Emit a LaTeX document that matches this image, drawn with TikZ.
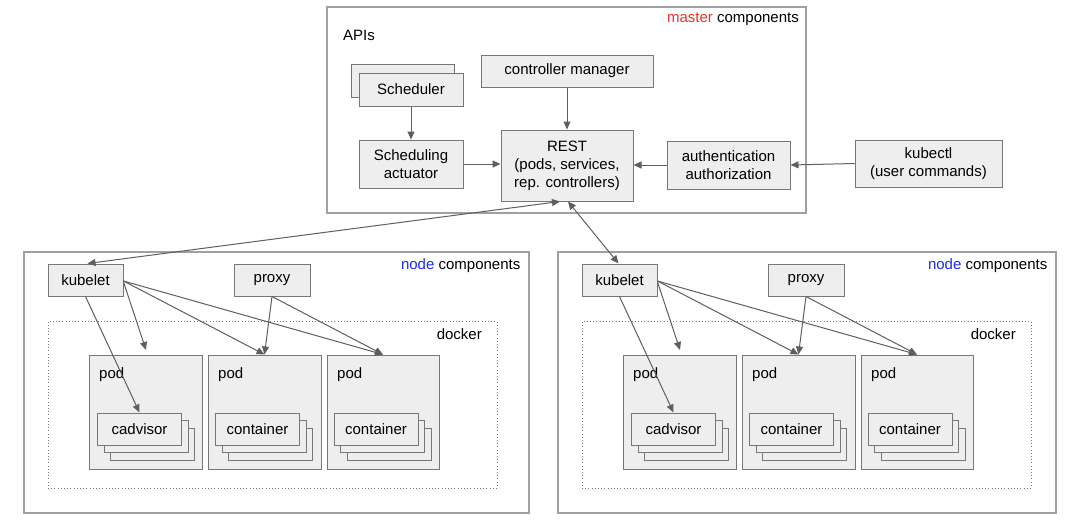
\documentclass[tikz,border=0pt]{standalone}
\usepackage{fontspec}
\setmainfont{Liberation Sans}
\usetikzlibrary{arrows.meta,calc}
\definecolor{boxfill}{HTML}{EEEEEE}
\definecolor{boxline}{HTML}{777777}
\definecolor{grpline}{HTML}{A0A0A0}
\definecolor{arrline}{HTML}{5F5F5F}
\definecolor{mred}{HTML}{E8362B}
\definecolor{nblue}{HTML}{1A2BFF}
\tikzset{
  sz/.style 2 args={minimum width=#1pt, minimum height=#2pt},
  comp/.style={draw=boxline, fill=boxfill, line width=1pt, inner sep=0pt, align=center, font=\fontsize{15}{18}\selectfont},
  grp/.style={draw=grpline, line width=1.5pt, inner sep=0pt},
  dock/.style={draw=boxline, line width=0.9pt, dash pattern=on 1pt off 2.2pt, inner sep=0pt},
  lbl/.style={inner sep=0pt, font=\fontsize{15}{18}\selectfont},
  conn/.style={draw=arrline, line width=1pt, -{Triangle[length=8pt,width=7pt]}},
  biconn/.style={draw=arrline, line width=1pt, {Triangle[length=8pt,width=7pt]}-{Triangle[length=8pt,width=7pt]}},
}
\newcommand\ctstack[4]{% name, x, y, text
  \node[comp, sz={84}{32}] (#1c) at (#2+13,#3+15.5) {};
  \node[comp, sz={84}{32}] (#1b) at (#2+6.5,#3+7.5) {};
  \node[comp, sz={84}{32}] (#1) at (#2,#3) {#4};
}
\newcommand\nodegroup[3]{% suffix, dx, box width
  \begin{scope}[xshift=#2pt]
    \node[grp, minimum width=#3pt, minimum height=261pt] (grp#1) at (24+#3/2,382.5) {};
    \node[lbl, anchor=base east] (grplbl#1) at (24+#3-8.5,269.5) {\textcolor{nblue}{node} components};
    \node[comp, sz={75}{32}] (kubelet#1) at (85.5,280) {kubelet};
    \node[comp, sz={76}{32}] (proxy#1) at (272,280) {proxy};
    \node[dock, minimum width=449pt, minimum height=167pt] (docker#1) at (272.5,404.5) {};
    \node[lbl, anchor=base east] (dockerlbl#1) at (482,339) {docker};
    \node[comp, sz={113}{114}] (podA#1) at (145.5,412) {};
    \node[comp, sz={113}{114}] (podB#1) at (264.5,412) {};
    \node[comp, sz={112}{114}] (podC#1) at (383,412) {};
    \node[lbl, anchor=base west] (podAl#1) at (99,378) {pod};
    \node[lbl, anchor=base west] (podBl#1) at (218,378) {pod};
    \node[lbl, anchor=base west] (podCl#1) at (337,378) {pod};
    \ctstack{cadvisor#1}{139.5}{429}{cadvisor}
    \ctstack{contB#1}{257.5}{429}{container}
    \ctstack{contC#1}{376}{429}{container}
    \coordinate (kfree#1) at (146,350);
    \draw[conn] ([yshift=-2pt]kubelet#1.east) -- (kfree#1);
    \draw[conn] ([yshift=-1pt]kubelet#1.east) -- (podB#1.north);
    \draw[conn] ([yshift=-1pt]kubelet#1.east) -- (podC#1.north);
    \draw[conn] (kubelet#1.south) -- (cadvisor#1.north);
    \draw[conn] (proxy#1.south) -- (podB#1.north);
    \draw[conn] (proxy#1.south) -- (podC#1.north);
  \end{scope}
}
\begin{document}
\begin{tikzpicture}[x=1pt, y=-1pt]
  \useasboundingbox[fill=white] (0,0) rectangle (1085,520);
  % master
  \node[grp, minimum width=479pt, minimum height=206pt] (master) at (566.5,110) {};
  \node[lbl, anchor=base east] (masterlbl) at (799,22) {\textcolor{mred}{master} components};
  \node[lbl, anchor=base west] (apis) at (343,40) {APIs};
  \node[comp, sz={103}{33}] (schedb) at (402.5,80.5) {};
  \node[comp, sz={104}{33}] (sched) at (411,89.5) {Scheduler};
  \node[comp, sz={172}{32}] (cm) at (567,71) {controller manager};
  \node[comp, sz={104}{48}] (act) at (411,164) {Scheduling\\actuator};
  \node[comp, sz={132}{71}] (rest) at (567,165.5) {REST\\(pods, services,\\rep. controllers)};
  \node[comp, sz={123}{48}] (auth) at (728.5,165) {authentication\\authorization};
  \node[comp, sz={147}{47}] (kubectl) at (928.5,163.5) {kubectl\\(user commands)};
  \draw[conn] (sched) -- (act);
  \draw[conn] (cm) -- (rest);
  \draw[conn] (act.east) -- (act.east -| rest.west);
  \draw[conn] (auth.west) -- (auth.west -| rest.east);
  \draw[conn] (kubectl.west) -- (auth.east);
  % node groups
  \nodegroup{L}{0}{505}
  \nodegroup{R}{534}{498}
  \draw[biconn] ([xshift=-7pt]rest.south) -- ([xshift=2pt]kubeletL.north);
  \draw[biconn] ([xshift=1pt]rest.south) -- ([xshift=-1pt]kubeletR.north);
\end{tikzpicture}
\end{document}
